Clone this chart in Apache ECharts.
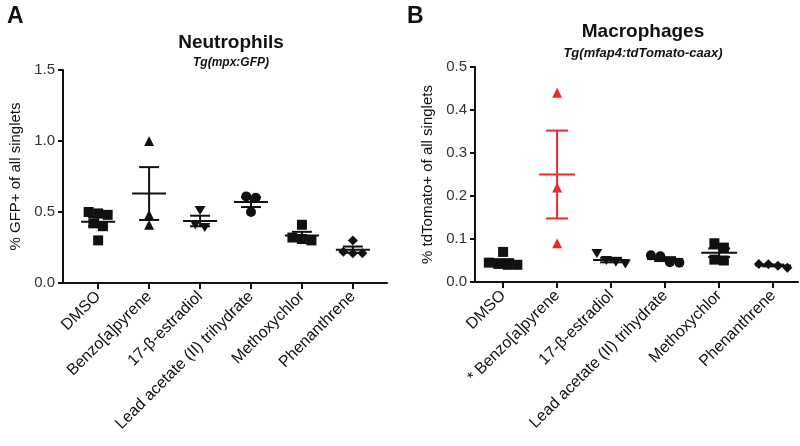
<!DOCTYPE html>
<html>
<head>
<meta charset="utf-8">
<script src="https://cdn.jsdelivr.net/npm/echarts@6/dist/echarts.min.js"></script>
<style>
  html, body { margin: 0; padding: 0; background: #fff; }
  #main { width: 800px; height: 446px; }
</style>
</head>
<body>
<div id="main"></div>
<script>
// 类目
const categoriesA = ['DMSO', 'Benzo[a]pyrene', '17-β-estradiol', 'Lead acetate (II) trihydrate', 'Methoxychlor', 'Phenanthrene'];
const categoriesB = ['DMSO', '* Benzo[a]pyrene', '17-β-estradiol', 'Lead acetate (II) trihydrate', 'Methoxychlor', 'Phenanthrene'];

// Neutrophils, % GFP+
const neutroDMSO = [0.50, 0.49, 0.48, 0.42, 0.40, 0.30];
const neutroBenzo = [1.00, 0.48, 0.41];
const neutroEstradiol = [0.51, 0.41, 0.39];
const neutroLead = [0.61, 0.60, 0.50];
const neutroMethoxy = [0.41, 0.32, 0.31, 0.30];
const neutroPhen = [0.30, 0.22, 0.21, 0.21];

// Macrophages, % tdTomato+
const macroDMSO = [0.070, 0.045, 0.042, 0.040, 0.040];
const macroBenzo = [0.44, 0.22, 0.09];
const macroEstradiol = [0.066, 0.050, 0.046, 0.042];
const macroLead = [0.062, 0.060, 0.046, 0.045];
const macroMethoxy = [0.090, 0.080, 0.052, 0.050];
const macroPhen = [0.042, 0.041, 0.038, 0.033];

const ticksA = [0, 0.5, 1.0, 1.5];
const ticksB = [0, 0.1, 0.2, 0.3, 0.4, 0.5];

const symbols = ['rect', 'triangle', 'path://M0,0 L10,0 L5,10 Z', 'circle', 'rect', 'diamond'];
const RED = '#ee2a24';

function stats(arr) {
    const n = arr.length;
    const m = arr.reduce((a, b) => a + b, 0) / n;
    const sd = Math.sqrt(arr.reduce((a, b) => a + (b - m) * (b - m), 0) / (n - 1));
    return { mean: m, sem: sd / Math.sqrt(n) };
}

// 简单的点散开 (避免重叠)
function spread(arr, pxPerUnit, size) {
    const idx = arr.map((v, i) => i).sort((a, b) => arr[b] - arr[a]);
    const offsets = new Array(arr.length).fill(0);
    let group = [idx[0]];
    const flush = () => {
        const n = group.length;
        group.forEach((g, k) => { offsets[g] = (k - (n - 1) / 2) * size * 0.95; });
    };
    for (let k = 1; k < idx.length; k++) {
        const prev = group[group.length - 1];
        if ((arr[prev] - arr[idx[k]]) * pxPerUnit < size * 0.8) {
            group.push(idx[k]);
        } else {
            flush();
            group = [idx[k]];
        }
    }
    flush();
    return offsets;
}

function buildPanel(groups, gridIndex, pxPerUnit, colorFn, meanHalf, capHalf) {
    const series = [];
    const errData = [];
    groups.forEach((arr, i) => {
        const offs = spread(arr, pxPerUnit, 10);
        series.push({
            type: 'scatter',
            xAxisIndex: gridIndex,
            yAxisIndex: gridIndex,
            symbol: symbols[i],
            symbolSize: i === 2 ? [11, 9] : 10,
            itemStyle: { color: colorFn(i), opacity: 1 },
            data: arr.map((v, k) => ({ value: [i, v], symbolOffset: [offs[k], 0] })),
            z: 2
        });
        const s = stats(arr);
        errData.push([i, s.mean, s.mean - s.sem, s.mean + s.sem]);
    });
    series.push({
        type: 'custom',
        xAxisIndex: gridIndex,
        yAxisIndex: gridIndex,
        z: 3,
        data: errData,
        renderItem: function (params, api) {
            const i = api.value(0);
            const c = api.coord([i, api.value(1)]);
            const lo = api.coord([i, api.value(2)]);
            const hi = api.coord([i, api.value(3)]);
            const st = { stroke: colorFn(i), lineWidth: 2 };
            return {
                type: 'group',
                children: [
                    { type: 'line', shape: { x1: c[0] - meanHalf, y1: c[1], x2: c[0] + meanHalf, y2: c[1] }, style: st },
                    { type: 'line', shape: { x1: c[0], y1: lo[1], x2: c[0], y2: hi[1] }, style: st },
                    { type: 'line', shape: { x1: c[0] - capHalf, y1: lo[1], x2: c[0] + capHalf, y2: lo[1] }, style: st },
                    { type: 'line', shape: { x1: c[0] - capHalf, y1: hi[1], x2: c[0] + capHalf, y2: hi[1] }, style: st }
                ]
            };
        }
    });
    return series;
}

const font = 'Liberation Sans, Arial, sans-serif';
const axisLineStyle = { color: '#111', width: 2 };

function xAxisFor(gridIndex, cats, min, max) {
    return {
        type: 'value',
        gridIndex: gridIndex,
        min: min,
        max: max,
        splitLine: { show: false },
        axisLine: { show: true, onZero: false, lineStyle: axisLineStyle },
        axisTick: { show: true, length: 6, lineStyle: { color: '#111', width: 2 }, customValues: [0, 1, 2, 3, 4, 5] },
        axisLabel: {
            customValues: [0, 1, 2, 3, 4, 5],
            rotate: 45,
            margin: 11,
            fontFamily: font,
            fontSize: 16,
            color: '#111',
            formatter: v => cats[Math.round(v)]
        }
    };
}

function yAxisFor(gridIndex, name, max, interval) {
    return {
        type: 'value',
        gridIndex: gridIndex,
        min: 0,
        max: max,
        interval: interval,
        name: name,
        nameLocation: 'middle',
        nameGap: 40,
        nameTextStyle: { fontFamily: font, fontSize: 15, color: '#111' },
        splitLine: { show: false },
        axisLine: { show: true, onZero: false, lineStyle: axisLineStyle },
        axisTick: { show: true, length: 5, lineStyle: { color: '#111', width: 2 } },
        axisLabel: {
            fontFamily: font,
            fontSize: 15,
            color: '#333',
            margin: 8,
            formatter: v => v.toFixed(1)
        }
    };
}

const neutroGroups = [neutroDMSO, neutroBenzo, neutroEstradiol, neutroLead, neutroMethoxy, neutroPhen];
const macroGroups = [macroDMSO, macroBenzo, macroEstradiol, macroLead, macroMethoxy, macroPhen];

const option = {
    animation: false,
    backgroundColor: '#fff',
    title: [
        { text: 'A', left: 2, top: 0, textStyle: { fontFamily: font, fontSize: 23, fontWeight: 'bold', color: '#111' } },
        { text: 'B', left: 402, top: 0, textStyle: { fontFamily: font, fontSize: 23, fontWeight: 'bold', color: '#111' } },
        {
            text: 'Neutrophils', subtext: 'Tg(mpx:GFP)', left: 226, top: 28, textAlign: 'center', itemGap: 5,
            textStyle: { fontFamily: font, fontSize: 19, fontWeight: 'bold', color: '#111' },
            subtextStyle: { fontFamily: font, fontSize: 12, fontWeight: 'bold', fontStyle: 'italic', color: '#111' }
        },
        {
            text: 'Macrophages', subtext: 'Tg(mfap4:tdTomato-caax)', left: 638, top: 17, textAlign: 'center', itemGap: 6,
            textStyle: { fontFamily: font, fontSize: 19, fontWeight: 'bold', color: '#111' },
            subtextStyle: { fontFamily: font, fontSize: 13, fontWeight: 'bold', fontStyle: 'italic', color: '#111' }
        }
    ],
    grid: [
        { left: 63, right: 413, top: 70, bottom: 163 },
        { left: 475, right: 2, top: 67, bottom: 164 }
    ],
    xAxis: [
        xAxisFor(0, categoriesA, -0.69, 5.67),
        xAxisFor(1, categoriesB, -0.52, 5.46)
    ],
    yAxis: [
        yAxisFor(0, '% GFP+ of all singlets', ticksA[ticksA.length - 1], ticksA[1] - ticksA[0]),
        yAxisFor(1, '% tdTomato+ of all singlets', ticksB[ticksB.length - 1], ticksB[1] - ticksB[0])
    ],
    series: [
        ...buildPanel(neutroGroups, 0, 142, () => '#111', 17, 10),
        ...buildPanel(macroGroups, 1, 430, i => (i === 1 ? RED : '#111'), 18, 11)
    ]
};

const chart = echarts.init(document.getElementById('main'));
chart.setOption(option);
</script>
</body>
</html>
